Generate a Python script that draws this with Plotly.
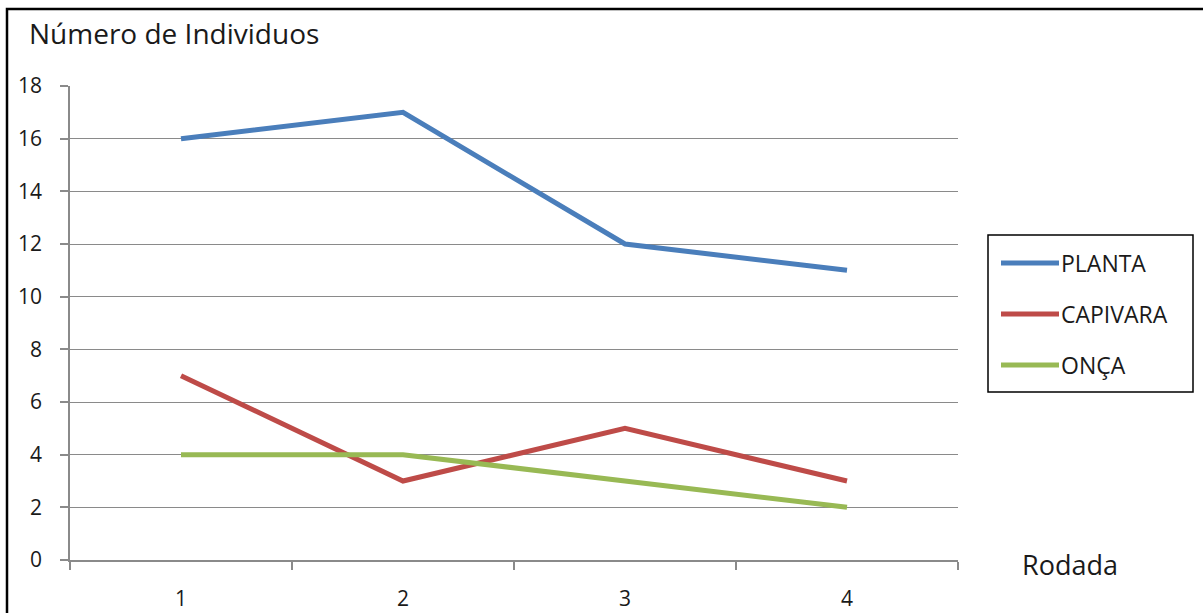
import plotly.graph_objects as go

# Data
rodadas = ["1", "2", "3", "4"]
planta = [16, 17, 12, 11]
capivara = [7, 3, 5, 3]
onca = [4, 4, 3, 2]

series_names = ["PLANTA", "CAPIVARA", "ONÇA"]
series_values = [planta, capivara, onca]
series_colors = ["#4A7EBB", "#BE4B48", "#98B954"]

W, H = 1203, 613
L, R, T, B = 70, 245, 86, 53
PW, PH = W - L - R, H - T - B

def px_x(px):
    return (px - L) / PW

def px_y(py):
    return (H - B - py) / PH

FONT = "Open Sans"
AXIS_GREY = "#8A8A8A"
TEXT = "#1a1a1a"

fig = go.Figure()
for name, vals, col in zip(series_names, series_values, series_colors):
    fig.add_trace(go.Scatter(
        x=rodadas, y=vals, name=name, mode="lines",
        line=dict(color=col, width=5), showlegend=False,
        hoverinfo="x+y+name",
    ))

fig.update_layout(
    width=W, height=H,
    margin=dict(l=L, r=R, t=T, b=B),
    paper_bgcolor="white", plot_bgcolor="white",
    font=dict(family=FONT, size=20, color=TEXT),
    xaxis=dict(
        type="category", range=[-0.5, 3.5], automargin=False,
        tickson="boundaries", ticks="outside", ticklen=8, tickwidth=1.5,
        tickcolor=AXIS_GREY, showline=True, linecolor=AXIS_GREY, linewidth=1.5,
        showgrid=False, ticklabelstandoff=19,
        tickfont=dict(size=21, color=TEXT),
    ),
    yaxis=dict(
        range=[0, 18], dtick=2, tick0=0, automargin=False,
        ticks="outside", ticklen=8, tickwidth=1.5, tickcolor=AXIS_GREY,
        showline=True, linecolor=AXIS_GREY, linewidth=1.5,
        showgrid=True, gridcolor=AXIS_GREY, gridwidth=1.2,
        zeroline=False, ticklabelstandoff=14,
        tickfont=dict(size=21, color=TEXT),
    ),
)

shapes = []
annotations = []

# Outer chart frame (top and left edges visible)
shapes.append(dict(type="rect", xref="paper", yref="paper",
                   x0=px_x(7), x1=px_x(W + 10), y0=px_y(H + 10), y1=px_y(9),
                   line=dict(color="black", width=2.5), fillcolor="rgba(0,0,0,0)",
                   layer="below"))

# Chart title
annotations.append(dict(text="Número de Individuos", xref="paper", yref="paper",
                        x=px_x(27), y=px_y(33), xanchor="left", yanchor="middle",
                        showarrow=False, font=dict(family=FONT, size=28, color=TEXT)))

# Horizontal axis title
annotations.append(dict(text="Rodada", xref="paper", yref="paper",
                        x=px_x(1020), y=px_y(564), xanchor="left", yanchor="middle",
                        showarrow=False, font=dict(family=FONT, size=27, color=TEXT)))

# Legend box
shapes.append(dict(type="rect", xref="paper", yref="paper",
                   x0=px_x(988), x1=px_x(1193), y0=px_y(392), y1=px_y(235),
                   line=dict(color="black", width=1.5), fillcolor="white"))
legend_rows = [263, 314, 365]
for name, col, yy in zip(series_names, series_colors, legend_rows):
    shapes.append(dict(type="line", xref="paper", yref="paper",
                       x0=px_x(1001), x1=px_x(1059), y0=px_y(yy), y1=px_y(yy),
                       line=dict(color=col, width=5)))
    annotations.append(dict(text=name, xref="paper", yref="paper",
                            x=px_x(1059), y=px_y(yy), xanchor="left", yanchor="middle",
                            showarrow=False, font=dict(family=FONT, size=23, color=TEXT)))

fig.update_layout(shapes=shapes, annotations=annotations)

fig.write_html("out.html")
